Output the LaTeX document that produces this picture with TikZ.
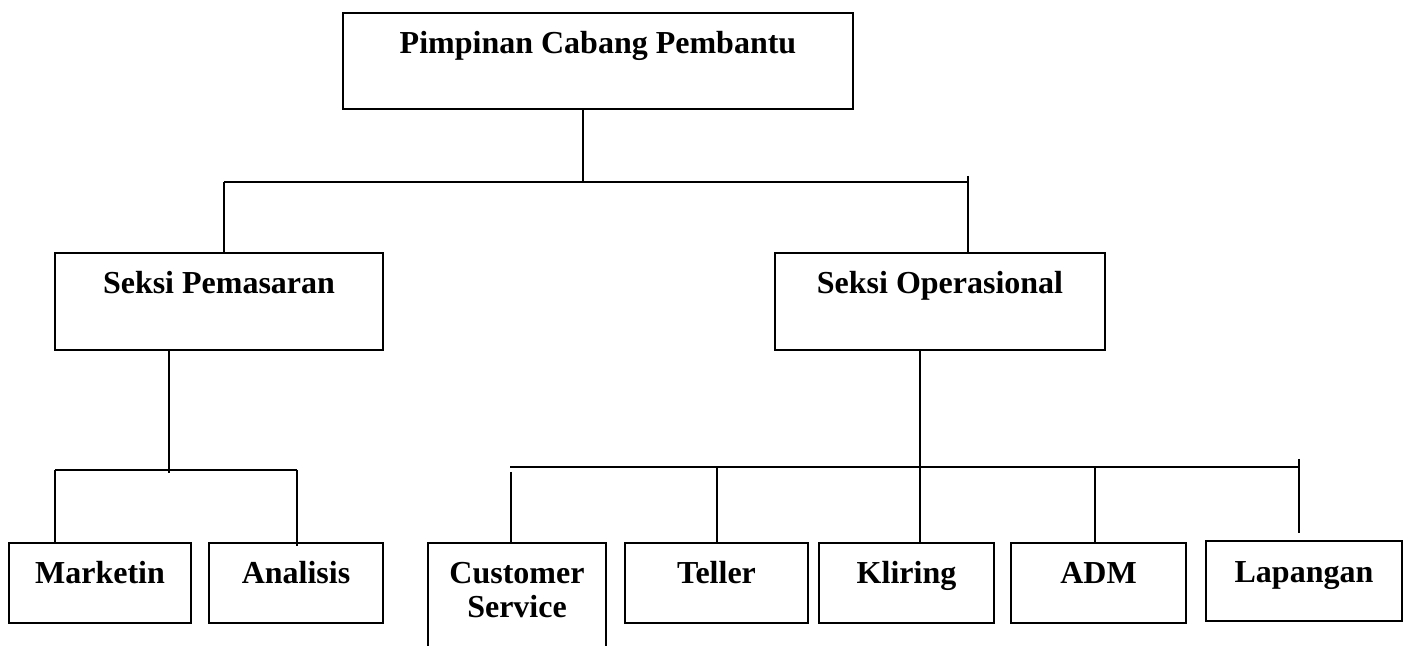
\documentclass[tikz,border=0pt]{standalone}
\usepackage{fontspec}
\setmainfont{Liberation Serif}
\begin{document}
\begin{tikzpicture}[x=0.5pt,y=-0.5pt,
  box/.style={draw, line width=1.4pt, inner sep=0pt, text height=20.5pt,
    font=\fontsize{16pt}{17pt}\selectfont\bfseries},
  wire/.style={line width=1pt}]
\useasboundingbox (0,0) rectangle (1404,646);
\clip (0,0) rectangle (1404,646);
% boxes
\node[box, minimum width=255pt, text depth=27.5pt] (top) at (598,61) {Pimpinan Cabang Pembantu};
\node[box, minimum width=164pt, text depth=28pt] (sp) at (219,301.5) {Seksi Pemasaran};
\node[box, minimum width=165pt, text depth=28pt] (so) at (940,301.5) {Seksi Operasional};
\node[box, minimum width=91pt, text depth=19.5pt] (mk) at (100,583) {Marketin};
\node[box, minimum width=87pt, text depth=19.5pt] (an) at (296,583) {Analisis};
\node[box, minimum width=89pt, text depth=48pt] (cs) at (517,611.5)
  {\begin{tabular}[t]{@{}c@{}}Customer\\Service\end{tabular}};
\node[box, minimum width=91.5pt, text depth=19.5pt] (te) at (716.5,583) {Teller};
\node[box, minimum width=87.5pt, text depth=19.5pt] (kl) at (906.5,583) {Kliring};
\node[box, minimum width=87.5pt, text depth=19.5pt] (ad) at (1098.5,583) {ADM};
\node[box, minimum width=98pt, text depth=19.5pt] (lp) at (1304,581) {Lapangan};
% junction coordinates
\coordinate (j1) at (583,182);
\coordinate (bL) at (224,182);
\coordinate (bR) at (968,182);
\coordinate (bRt) at (968,176);
\coordinate (j2) at (169,470);
\coordinate (j2e) at (169,473);
\coordinate (lL) at (55,470);
\coordinate (lR) at (297,470);
\coordinate (lRe) at (297,546);
\coordinate (j3) at (920,467);
\coordinate (rL) at (510,467);
\coordinate (csTop) at (511,472);
\coordinate (adTop) at (1095,467);
\coordinate (rR) at (1299,467);
\coordinate (rRt) at (1299,459);
\coordinate (rRb) at (1299,533);
% top level
\draw[wire] (top.south -| j1) -- (j1);
\draw[wire] (bL) -- (bR);
\draw[wire] (bL) -- (bL |- sp.north);
\draw[wire] (bRt) -- (bR |- so.north);
% left subtree
\draw[wire] (sp.south -| j2) -- (j2e);
\draw[wire] (lL) -- (lR);
\draw[wire] (lL) -- (lL |- mk.north);
\draw[wire] (lR) -- (lRe);
% right subtree
\draw[wire] (so.south -| j3) -- (j3 |- kl.north);
\draw[wire] (rL) -- (rR);
\draw[wire] (csTop) -- (csTop |- cs.north);
\draw[wire] (te.north |- rL) -- (te.north);
\draw[wire] (adTop) -- (adTop |- ad.north);
\draw[wire] (rRt) -- (rRb);
\end{tikzpicture}
\end{document}
